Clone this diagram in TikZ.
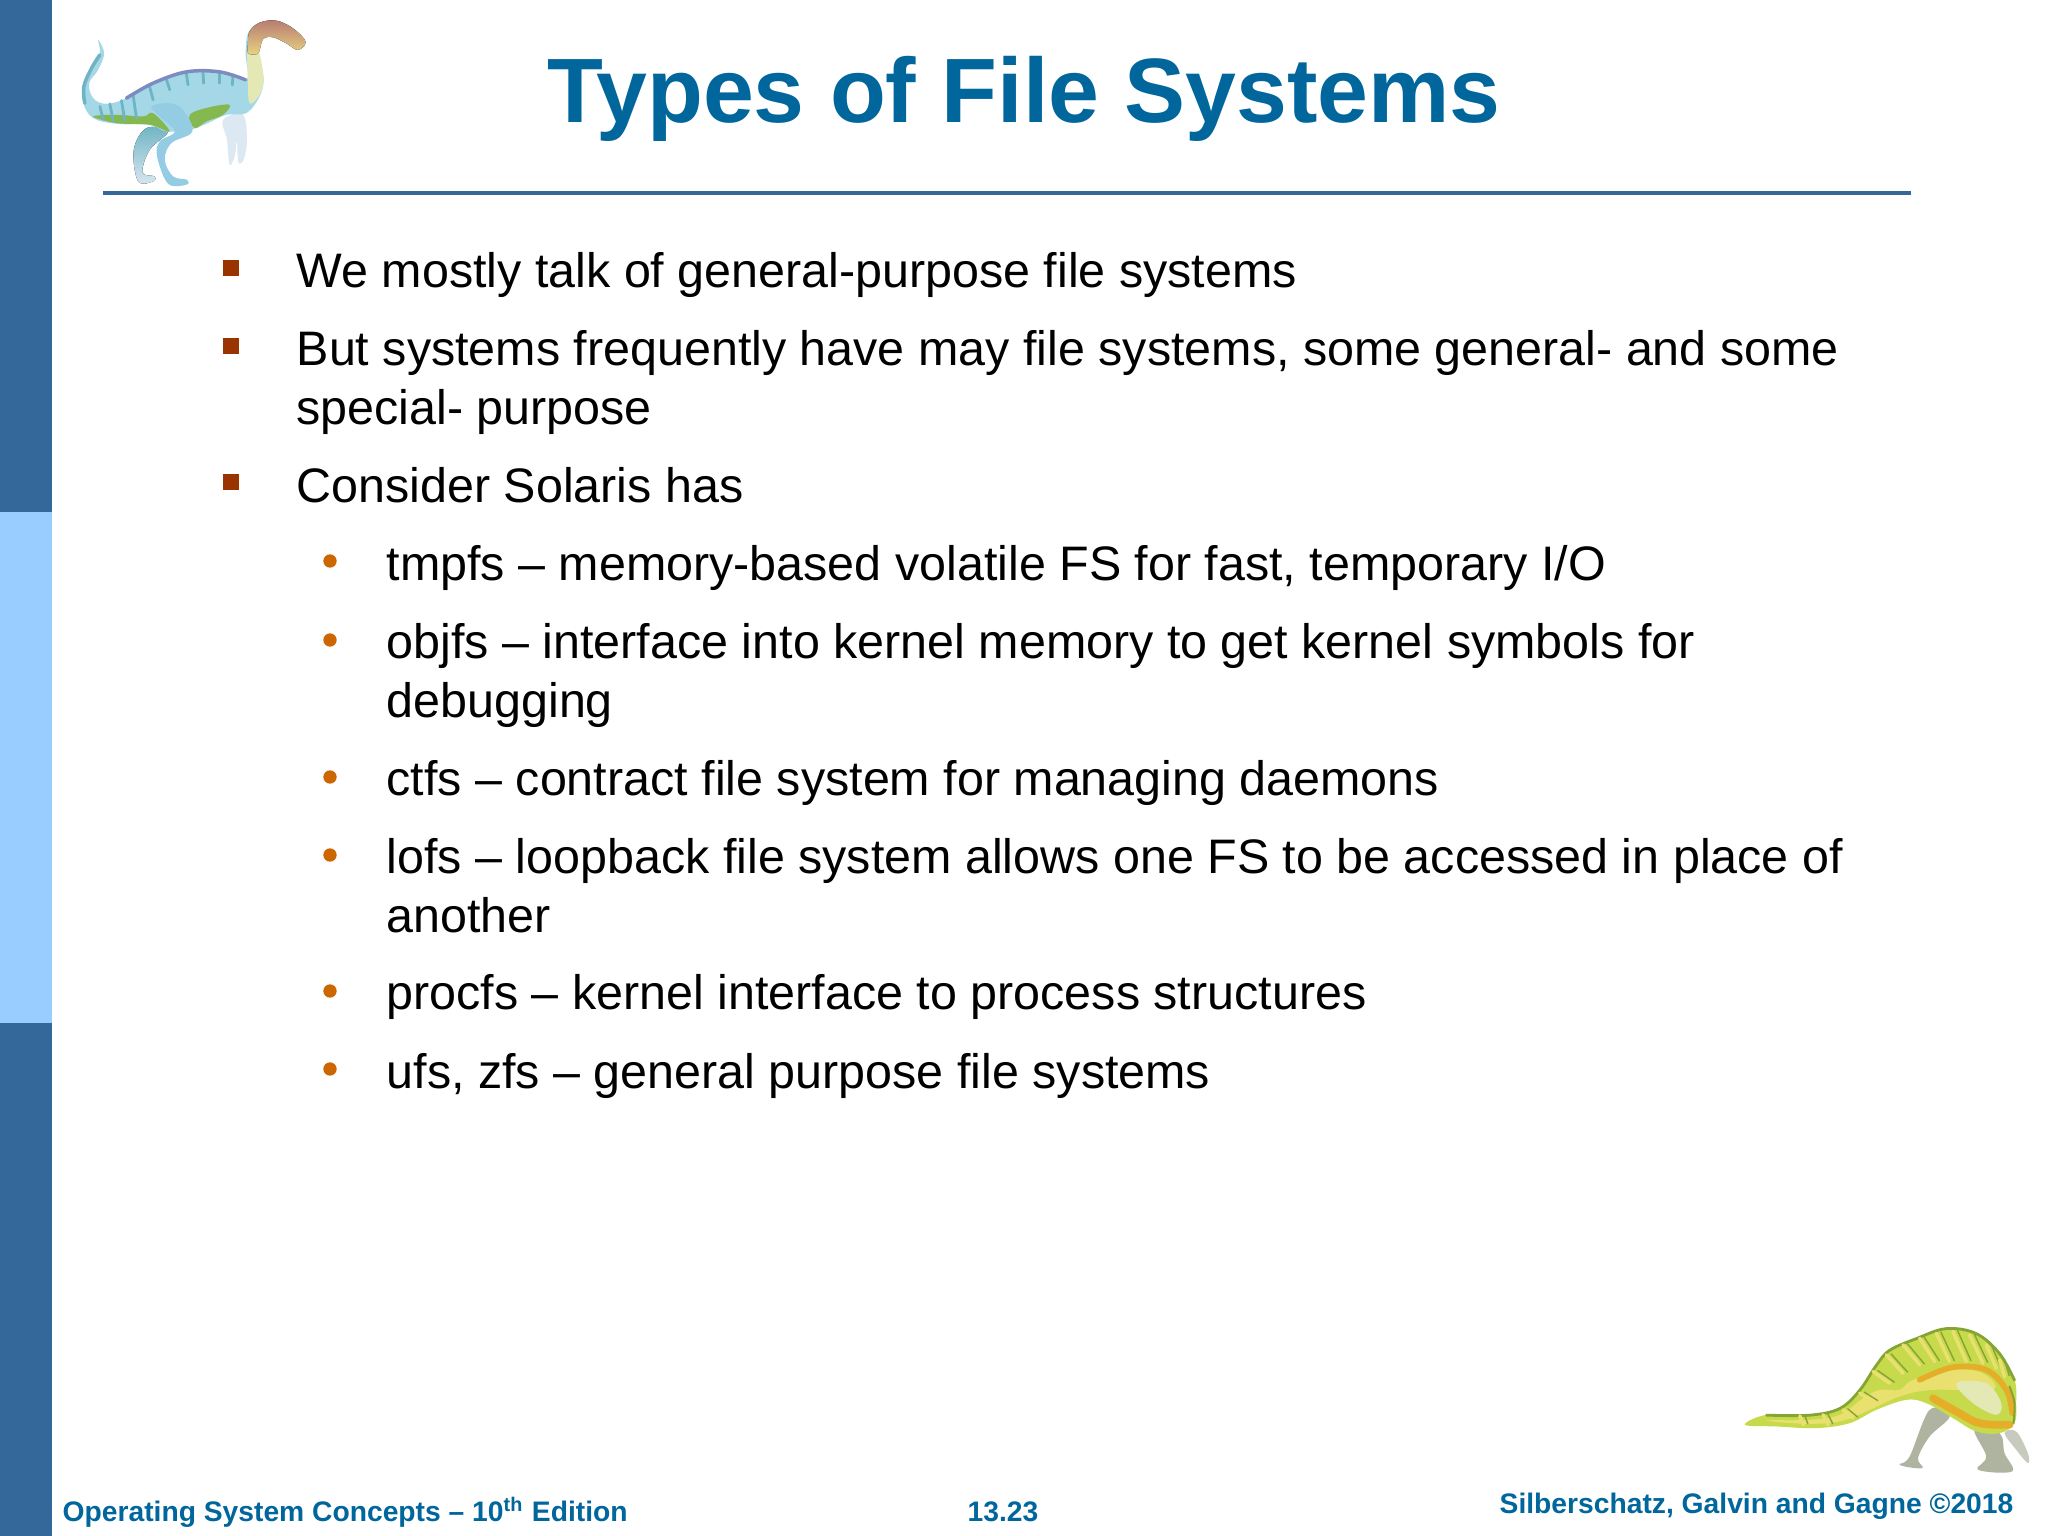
\documentclass[tikz,border=0pt]{standalone}
\usepackage{fontspec}
\setmainfont{Liberation Sans}
\definecolor{sidedark}{HTML}{34689A}
\definecolor{sidelight}{HTML}{99CCFF}
\definecolor{titleblue}{HTML}{00669C}
\definecolor{sqred}{HTML}{993300}
\definecolor{dotorange}{HTML}{CC6600}
\definecolor{dinoblue}{HTML}{A4D8E6}
\definecolor{dinoteal}{HTML}{6FB4C4}
\definecolor{dinoleaf}{HTML}{86B850}
\definecolor{dinoleg}{HTML}{94CCE4}
\definecolor{dinopale}{HTML}{DCE8F2}
\definecolor{dinoback}{HTML}{7C8CC0}
\definecolor{dinocrown}{HTML}{B87C70}
\definecolor{dinothroat}{HTML}{E8D484}
\definecolor{dinolime}{HTML}{C6DA4C}
\definecolor{dinoedge}{HTML}{84A434}
\definecolor{dinostripe}{HTML}{EAE070}
\definecolor{dinoamber}{HTML}{E6AE28}
\definecolor{dinoivory}{HTML}{E4E8B4}
\definecolor{dinofoot}{HTML}{AEB4A0}
\tikzset{
	titletext/.style={anchor=base,inner sep=0,text=titleblue,font=\fontsize{26}{30}\selectfont\bfseries},
	bodytext/.style={anchor=base west,inner sep=0,align=left,font=\fontsize{13.77}{16.5}\selectfont},
	foottext/.style={anchor=base,inner sep=0,text=titleblue,font=\fontsize{8.03}{10}\selectfont\bfseries},
	sqbullet/.style={fill=sqred,inner sep=0,minimum size=4.5pt},
	dotbullet/.style={circle,fill=dotorange,inner sep=0,minimum size=3.8pt},
	dinopart/.style={line width=0.2pt,line join=round}
}
\begin{document}
\begin{tikzpicture}[x=0.01cm,y=-0.01cm]
	\useasboundingbox (0,0) rectangle (2048,1536);
	\fill[sidedark] (0,0) rectangle (52,512);
	\fill[sidelight] (0,512) rectangle (52,1023);
	\fill[sidedark] (0,1023) rectangle (52,1536);
	\draw[sidedark,line width=1.1pt] (103,193) -- (1911,193);

	\begin{scope}[shift={(0,0)},x=0.00333cm,y=-0.00333cm]
		\fill[dinopart,top color=dinoteal,bottom color=dinopale] plot[smooth cycle,tension=.6] coordinates {(440,385) (505,395) (450,450) (428,518) (465,530) (460,545) (415,545) (402,450)};
		\fill[dinopart,fill=dinopale] plot[smooth cycle,tension=.6] coordinates {(670,360) (730,345) (742,420) (732,480) (716,487) (712,425) (705,470) (690,495) (682,420)};
		\fill[dinopart,fill=dinoblue] plot[smooth cycle,tension=.6] coordinates {(295,120) (313,160) (295,210) (268,250) (280,295) (320,312) (380,295) (460,250) (560,215) (660,215) (740,240) (738,160) (745,100) (775,70) (830,62) (880,85) (918,125) (895,150) (860,130) (820,110) (785,120) (775,160) (792,235) (780,290) (740,340) (680,345) (620,372) (570,390) (500,395) (450,375) (350,372) (280,355) (250,310) (250,260) (275,200) (300,160)};
		\fill[dinopart,fill=dinoleaf] plot[smooth cycle,tension=.6] coordinates {(570,345) (630,322) (690,315) (670,345) (620,365) (585,385)};
		\fill[dinopart,fill=dinoleaf] plot[smooth cycle,tension=.6] coordinates {(280,350) (350,345) (430,350) (460,340) (510,395) (450,375) (350,370)};
		\foreach \sx/\sy/\ex/\ey in {300/320/310/358,330/312/340/362,365/302/375/362,400/285/410/355,450/262/460/300,500/238/510/270,560/222/565/255,610/218/612/250,660/220/660/250,700/228/698/255}{
			\draw[dinoteal,line width=0.8pt,line cap=round] (\sx,\sy) -- (\ex,\ey);
		}
		\fill[dinopart,fill=dinoleg] plot[smooth cycle,tension=.6] coordinates {(455,320) (510,310) (550,330) (578,395) (515,430) (495,480) (520,530) (562,540) (560,555) (505,552) (472,470) (480,425) (525,395) (480,350)};
		\draw[dinoback,line width=1pt,line cap=round] plot[smooth,tension=.6] coordinates {(380,295) (460,250) (560,216) (660,216) (738,240)};
		\draw[dinoteal,line width=1pt,line cap=round] plot[smooth,tension=.6] coordinates {(300,165) (275,205) (252,260) (255,310)};
		\fill[dinopart,fill=dinoivory] plot[smooth cycle,tension=.6] coordinates {(745,150) (775,150) (792,235) (780,285) (750,310) (745,240)};
		\fill[dinopart,top color=dinocrown,bottom color=dinothroat] plot[smooth cycle,tension=.6] coordinates {(745,130) (750,95) (780,68) (830,62) (880,85) (918,125) (895,150) (860,130) (820,112) (790,118) (776,160) (746,160)};
	\end{scope}

	\begin{scope}[shift={(1700,1290)},x=0.00333cm,y=-0.00333cm]
		\fill[dinopart,fill=dinofoot] plot[smooth cycle,tension=.6] coordinates {(690,360) (750,380) (690,440) (655,505) (668,535) (600,525) (630,500)};
		\fill[dinopart,fill=dinofoot] plot[smooth cycle,tension=.6] coordinates {(825,420) (900,430) (915,490) (938,545) (835,540) (860,500)};
		\fill[dinopart,fill=dinofoot!70!white] plot[smooth cycle,tension=.6] coordinates {(915,430) (950,425) (985,490) (985,520) (950,480)};
		\fill[dinopart,fill=dinolime] plot[smooth cycle,tension=.6] coordinates {(135,405) (200,375) (330,375) (420,355) (480,300) (530,225) (570,180) (650,145) (740,115) (830,130) (900,190) (945,270) (950,340) (945,400) (900,430) (830,425) (760,385) (680,340) (620,330) (530,360) (450,400) (350,415) (230,410)};
		\fill[dinopart,fill=dinostripe] plot[smooth cycle,tension=.6] coordinates {(200,392) (330,390) (420,375) (490,325) (540,300) (600,300) (640,270) (760,240) (850,250) (880,300) (700,300) (600,320) (500,365) (420,395) (320,402)};
		\draw[dinoedge,line width=0.8pt,line cap=round] plot[smooth,tension=.6] coordinates {(200,376) (330,376) (420,356) (480,301) (530,226) (570,181) (650,146) (740,116) (830,131) (900,191) (945,271)};
		\foreach \sx/\sy/\ex/\ey in {520/245/570/280,560/195/610/250,610/165/660/225,660/145/705/215,710/130/750/215,760/125/800/215,810/135/850/220,860/165/890/235,900/210/915/260,480/310/520/335,430/360/460/385,370/375/385/405,300/378/310/405}{
			\draw[dinostripe,line width=1pt,line cap=round] (\sx,\sy) -- (\ex,\ey);
			\draw[dinoedge,line width=0.4pt,line cap=round] (\sx+14,\sy-3) -- (\ex+14,\ey-3);
		}
		\fill[dinopart,fill=dinoivory] plot[smooth cycle,tension=.6] coordinates {(770,280) (860,280) (905,340) (890,375) (820,340)};
		\draw[dinoamber,line width=1.6pt,line cap=round] plot[smooth,tension=.6] coordinates {(660,270) (760,232) (860,240) (920,300) (938,370)};
		\draw[dinoamber,line width=2.2pt,line cap=round] plot[smooth,tension=.6] coordinates {(700,325) (770,365) (840,400) (930,405)};
		\draw[dinoedge,line width=0.6pt,line cap=round] plot[smooth,tension=.6] coordinates {(930,290) (945,340) (942,400)};
	\end{scope}

	\node[titletext] (title) at (1024,122) {Types of File Systems};

	\node[sqbullet] (sq1) at (231,268) {};
	\node[sqbullet] (sq2) at (231,346) {};
	\node[sqbullet] (sq3) at (231,482) {};
	\node[dotbullet] (dot1) at (330,561) {};
	\node[dotbullet] (dot2) at (330,640) {};
	\node[dotbullet] (dot3) at (330,777) {};
	\node[dotbullet] (dot4) at (330,855) {};
	\node[dotbullet] (dot5) at (330,991) {};
	\node[dotbullet] (dot6) at (330,1069) {};

	\node[bodytext] (general) at (296,287) {We mostly talk of general-purpose file systems};
	\node[bodytext] (special) at (296,424) {But systems frequently have may file systems, some general- and some\\special- purpose};
	\node[bodytext] (solaris) at (296,502) {Consider Solaris has};
	\node[bodytext] (tmpfs) at (386,580) {tmpfs – memory-based volatile FS for fast, temporary I/O};
	\node[bodytext] (objfs) at (386,717) {objfs – interface into kernel memory to get kernel symbols for\\debugging};
	\node[bodytext] (ctfs) at (386,795) {ctfs – contract file system for managing daemons};
	\node[bodytext] (lofs) at (386,932) {lofs – loopback file system allows one FS to be accessed in place of\\another};
	\node[bodytext] (procfs) at (386,1009) {procfs – kernel interface to process structures};
	\node[bodytext] (ufszfs) at (386,1088) {ufs, zfs – general purpose file systems};

	\node[foottext,anchor=base west] (edition) at (62,1521) {Operating System Concepts – 10\textsuperscript{th} Edition};
	\node[foottext] (pagenum) at (1003,1521) {13.23};
	\node[foottext,anchor=base east] (authors) at (2014,1513) {Silberschatz, Galvin and Gagne ©2018};
\end{tikzpicture}
\end{document}
